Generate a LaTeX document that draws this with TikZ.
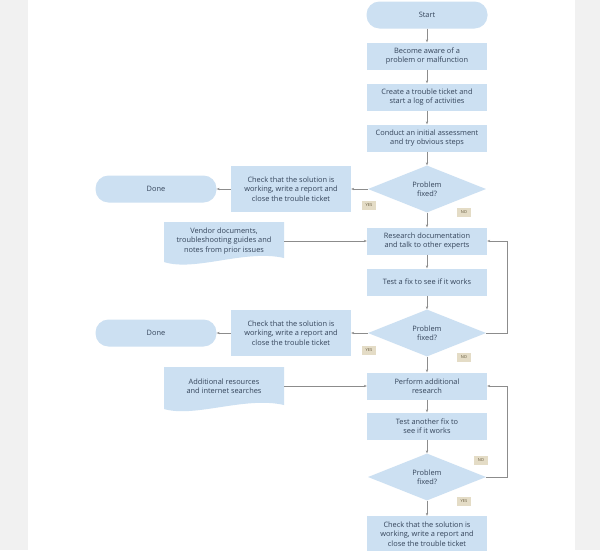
\documentclass[tikz,border=0pt]{standalone}
\usepackage{fontspec}
\setmainfont{Open Sans}
\usetikzlibrary{shapes.geometric,arrows.meta}

\definecolor{boxblue}{HTML}{CCE0F2}
\definecolor{inkblue}{HTML}{34445A}
\definecolor{flowgray}{HTML}{8C8C8C}
\definecolor{tagtan}{HTML}{E4DCC6}
\definecolor{tagink}{HTML}{5E5236}
\definecolor{pagegray}{HTML}{F1F1F1}

\tikzset{
  base/.style={text=inkblue, font=\fontsize{7.4}{9.5}\selectfont, align=center, inner sep=0pt},
  stepbox/.style={base, fill=boxblue, minimum width=120pt, minimum height=27pt},
  checkbox/.style={base, fill=boxblue, minimum width=120pt, minimum height=46pt},
  pill/.style={base, fill=boxblue, rounded corners=13pt, minimum width=121pt, minimum height=27pt},
  choice/.style={base, fill=boxblue, diamond, aspect=2.5, minimum width=118pt, minimum height=47pt},
  doctext/.style={base, minimum width=120pt, minimum height=34pt},
  tag/.style={fill=tagtan, text=tagink, font=\fontsize{4}{4.5}\selectfont, minimum width=14pt, minimum height=9pt, inner sep=0pt},
  flow/.style={draw=flowgray, line width=0.45pt, -{Stealth[length=3pt,width=2.4pt]}},
}

\begin{document}
\begin{tikzpicture}[x=1pt,y=-1pt]
\useasboundingbox (0,0) rectangle (600,550);
\clip (0,0) rectangle (600,550);

% --- pagina ---
\fill[pagegray] (0,0) rectangle (600,550);
\fill[white] (28,0) rectangle (575,550);

% --- columna principal ---
\node[pill] (start) at (427,15) {Start};
\node[stepbox] (aware) at (427,56) {Become aware of a\\problem or malfunction};
\node[stepbox] (ticket) at (427,97) {Create a trouble ticket and\\start a log of activities};
\node[stepbox] (assess) at (427,138) {Conduct an initial assessment\\and try obvious steps};
\node[choice] (fixedA) at (427,189) {Problem\\fixed?};

% primera salida: resuelto
\node[checkbox] (checkA) at (291,189) {Check that the solution is\\working, write a report and\\close the trouble ticket};
\node[pill] (doneA) at (156,189) {Done};

% documentos del proveedor (hoja con borde ondulado)
\fill[boxblue] (164,222) -- (284,222) -- (284,258) .. controls (245,249) and (195,272) .. (164,262) -- cycle;
\node[doctext] (vendor) at (224,241) {Vendor documents,\\troubleshooting guides and\\notes from prior issues};

\node[stepbox] (research) at (427,241) {Research documentation\\and talk to other experts};
\node[stepbox] (testA) at (427,282) {Test a fix to see if it works};
\node[choice] (fixedB) at (427,333) {Problem\\fixed?};

% segunda salida: resuelto
\node[checkbox] (checkB) at (291,333) {Check that the solution is\\working, write a report and\\close the trouble ticket};
\node[pill] (doneB) at (156,333) {Done};

% recursos adicionales
\fill[boxblue] (164,367) -- (284,367) -- (284,405) .. controls (245,396) and (195,418) .. (164,409) -- cycle;
\node[doctext] (extra) at (224,386) {Additional resources\\and internet searches};

\node[stepbox] (further) at (427,386) {Perform additional\\research};
\node[stepbox] (testB) at (427,426) {Test another fix to\\see if it works};
\node[choice] (fixedC) at (427,477) {Problem\\fixed?};
\node[checkbox, minimum height=36pt] (checkC) at (427,534) {Check that the solution is\\working, write a report and\\close the trouble ticket};

% --- etiquetas si/no ---
\node[tag] (yesA) at (369,205) {YES};
\node[tag] (noA) at (464,212) {NO};
\node[tag] (yesB) at (369,350) {YES};
\node[tag] (noB) at (464,357) {NO};
\node[tag] (noC) at (481,460) {NO};
\node[tag] (yesC) at (464,501) {YES};

% --- flechas ---
\draw[flow] (start) -- (aware);
\draw[flow] (aware) -- (ticket);
\draw[flow] (ticket) -- (assess);
\draw[flow] (assess) -- (fixedA);
\draw[flow] (fixedA) -- (checkA);
\draw[flow] (checkA) -- (doneA);
\draw[flow] (fixedA) -- (research);
\draw[flow] (vendor) -- (research);
\draw[flow] (research) -- (testA);
\draw[flow] (testA) -- (fixedB);
\draw[flow] (fixedB) -- (checkB);
\draw[flow] (checkB) -- (doneB);
\draw[flow] (fixedB.east) -- ++(21,0) |- (research.east);
\draw[flow] (fixedB) -- (further);
\draw[flow] (extra) -- (further);
\draw[flow] (further) -- (testB);
\draw[flow] (testB) -- (fixedC);
\draw[flow] (fixedC.east) -- ++(21,0) |- (further.east);
\draw[flow] (fixedC) -- (checkC);

\end{tikzpicture}
\end{document}
